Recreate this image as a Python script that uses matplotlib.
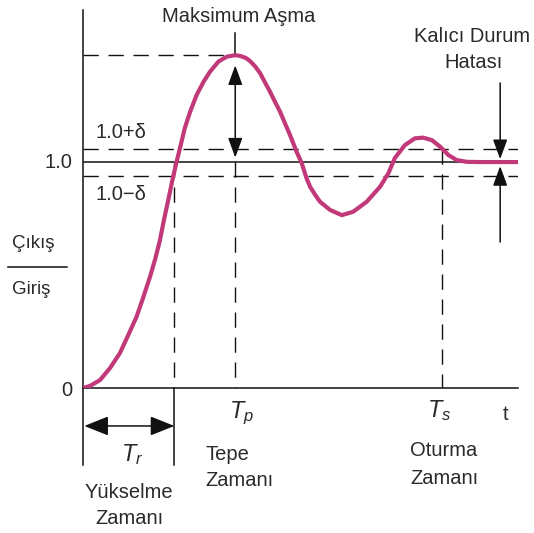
import matplotlib
matplotlib.use("Agg")
import matplotlib.pyplot as plt

plt.rcParams['font.family'] = ['Liberation Sans', 'DejaVu Sans']
plt.rcParams['mathtext.fontset'] = 'custom'
plt.rcParams['mathtext.it'] = 'Liberation Sans:italic'
plt.rcParams['mathtext.rm'] = 'Liberation Sans'

# step response (time in arbitrary units, output / input)
t_curve = [0.0, 0.16, 0.39, 0.62, 0.85, 1.03, 1.23, 1.38, 1.54, 1.66, 1.77,
           1.86, 1.96, 2.05, 2.15, 2.23, 2.34, 2.46, 2.61, 2.77, 2.92, 3.11,
           3.30, 3.49, 3.61, 3.75, 3.84, 3.95, 4.07, 4.18, 4.30, 4.41, 4.53,
           4.64, 4.76, 4.91, 5.03, 5.14, 5.22, 5.34, 5.45, 5.68, 5.95, 6.21,
           6.52, 6.83, 7.02, 7.17, 7.40, 7.63, 7.82, 8.02, 8.21, 8.40, 8.59,
           8.82, 9.13, 10.0]
y_curve = [0.0, 0.009, 0.035, 0.088, 0.155, 0.230, 0.315, 0.398, 0.492, 0.571,
           0.655, 0.743, 0.832, 0.916, 1.0, 1.062, 1.150, 1.221, 1.296, 1.355,
           1.400, 1.444, 1.466, 1.473, 1.470, 1.460, 1.447, 1.425, 1.394, 1.354,
           1.311, 1.268, 1.223, 1.173, 1.119, 1.046, 0.994, 0.928, 0.891, 0.854,
           0.824, 0.788, 0.765, 0.780, 0.824, 0.891, 0.950, 1.018, 1.075, 1.105,
           1.108, 1.097, 1.068, 1.031, 1.009, 1.001, 1.0, 1.0]

t_rise = 2.1
t_peak = 3.5
t_settle = 8.25
y_peak = 1.473
y_final = 1.0
delta = 0.06

t_end = 10.0
y_top = 1.673
y_below = -0.341

fig = plt.figure(figsize=(5.34, 5.33), dpi=100)
ax = fig.add_axes([83 / 534, (533 - 388) / 533, (518 - 83) / 534, (388 - 10) / 533])
ax.set_xlim(0, t_end)
ax.set_ylim(0, y_top)
for side in ['top', 'right']:
    ax.spines[side].set_visible(False)
for side in ['left', 'bottom']:
    ax.spines[side].set_linewidth(1.1)
    ax.spines[side].set_color('#111111')
ax.set_xticks([])
ax.set_yticks([])

ink = '#111111'
txt = '#2a2a2a'
dash = dict(color=ink, lw=1.0, dashes=(11, 7))

# reference levels
ax.plot([0, t_end], [y_final, y_final], color=ink, lw=1.1)
ax.plot([0, t_end], [y_final + delta] * 2, **dash)
ax.plot([0, t_end], [y_final - delta] * 2, **dash)
ax.plot([0, t_peak], [y_peak, y_peak], **dash)

# time markers
ax.plot([t_rise, t_rise], [y_final, 0], **dash)
ax.plot([t_peak, t_peak], [y_final, 0], **dash)
ax.plot([t_settle, t_settle], [y_final + delta, 0], **dash)

# response curve
ax.plot(t_curve, y_curve, color='#c2397a', lw=3.0, solid_capstyle='butt',
        solid_joinstyle='round', zorder=3)

# overshoot arrow
ax.plot([t_peak, t_peak], [1.571, y_peak], color=ink, lw=1.1)
ax.annotate('', xy=(t_peak, y_peak - 0.045), xytext=(t_peak, y_final + 0.02),
            arrowprops=dict(arrowstyle='<|-|>,head_length=0.6,head_width=0.22',
                            mutation_scale=20, color=ink, lw=1.1, shrinkA=0, shrinkB=0))

# steady state error arrows
t_err = 9.59
ax.annotate('', xy=(t_err, 1.013), xytext=(t_err, 1.35), annotation_clip=False,
            arrowprops=dict(arrowstyle='-|>,head_length=0.6,head_width=0.22',
                            mutation_scale=20, color=ink, lw=1.1, shrinkA=0, shrinkB=0))
ax.annotate('', xy=(t_err, 0.982), xytext=(t_err, 0.646), annotation_clip=False,
            arrowprops=dict(arrowstyle='-|>,head_length=0.6,head_width=0.22',
                            mutation_scale=20, color=ink, lw=1.1, shrinkA=0, shrinkB=0))

# rise time bracket below the axis
ax.plot([0, 0], [0, y_below], color=ink, lw=1.1, clip_on=False)
ax.plot([t_rise, t_rise], [0, y_below], color=ink, lw=1.1, clip_on=False)
ax.annotate('', xy=(0.03, -0.168), xytext=(t_rise, -0.168), annotation_clip=False,
            arrowprops=dict(arrowstyle='<|-|>,head_length=0.75,head_width=0.3',
                            mutation_scale=20, color=ink, lw=1.1, shrinkA=0, shrinkB=0))

fs = 14.5
# level labels
ax.text(-0.25, y_final, '1.0', ha='right', va='center', fontsize=fs, color=txt, clip_on=False)
ax.text(-0.25, -0.01, '0', ha='right', va='center', fontsize=fs, color=txt, clip_on=False)
ax.text(0.28, 1.13, '1.0+δ', ha='left', va='center', fontsize=fs, color=txt)
ax.text(0.28, 0.855, '1.0−δ', ha='left', va='center', fontsize=fs, color=txt)

# titles of the features
fig.text(239 / 534, 1 - 17 / 533, 'Maksimum Aşma', ha='center', va='center', fontsize=fs, color=txt)
fig.text(472 / 534, 1 - 37 / 533, 'Kalıcı Durum', ha='center', va='center', fontsize=fs, color=txt)
fig.text(473 / 534, 1 - 63 / 533, 'Hatası', ha='center', va='center', fontsize=fs, color=txt)

# y label as a fraction
fig.text(12 / 534, 1 - 244 / 533, 'Çıkış', ha='left', va='center', fontsize=13.5, color=txt)
fig.text(12 / 534, 1 - 290 / 533, 'Giriş', ha='left', va='center', fontsize=13.5, color=txt)
fig.add_artist(plt.Line2D([8 / 534, 67 / 534], [1 - 267 / 533, 1 - 267 / 533],
                          color=ink, lw=1.1))

# time labels
fig.text(229 / 534, 1 - 413 / 533, '$T_p$', ha='left', va='center', fontsize=17, color=txt)
fig.text(121 / 534, 1 - 455 / 533, '$T_r$', ha='left', va='center', fontsize=17, color=txt)
fig.text(427 / 534, 1 - 411 / 533, '$T_s$', ha='left', va='center', fontsize=17, color=txt)
fig.text(506 / 534, 1 - 414 / 533, 't', ha='center', va='center', fontsize=fs, color=txt)

fig.text(129 / 534, 1 - 492 / 533, 'Yükselme', ha='center', va='center', fontsize=fs, color=txt)
fig.text(129 / 534, 1 - 518 / 533, 'Zamanı', ha='center', va='center', fontsize=fs, color=txt)
fig.text(205 / 534, 1 - 455 / 533, 'Tepe', ha='left', va='center', fontsize=fs, color=txt)
fig.text(205 / 534, 1 - 481 / 533, 'Zamanı', ha='left', va='center', fontsize=fs, color=txt)
fig.text(444 / 534, 1 - 451 / 533, 'Oturma', ha='center', va='center', fontsize=fs, color=txt)
fig.text(444 / 534, 1 - 478 / 533, 'Zamanı', ha='center', va='center', fontsize=fs, color=txt)

fig.savefig('out.png', dpi=100, facecolor='white')
